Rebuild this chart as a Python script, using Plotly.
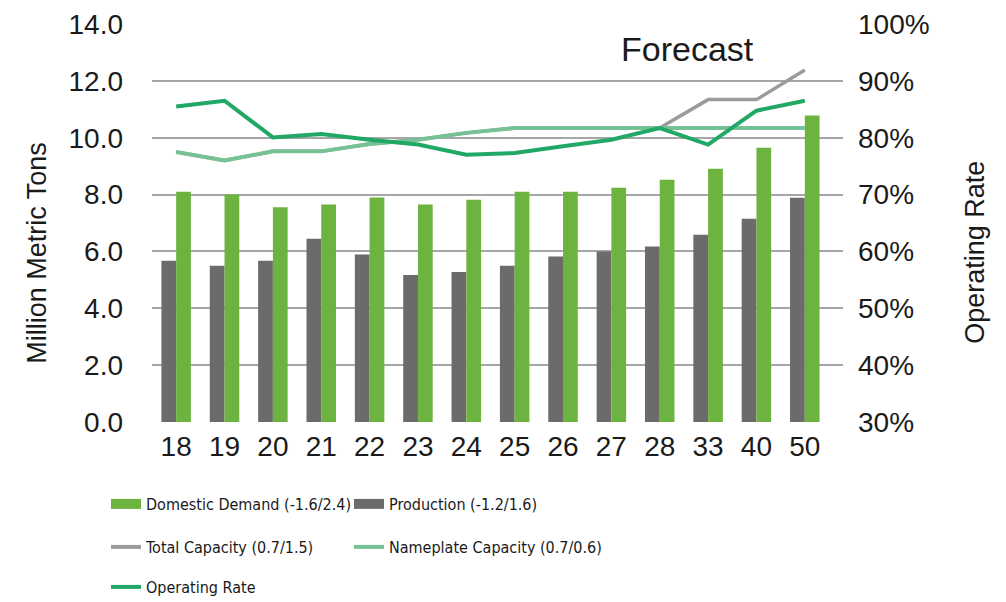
import plotly.graph_objects as go

years = ["18", "19", "20", "21", "22", "23", "24", "25", "26", "27", "28", "33", "40", "50"]
domestic_demand = [8.1, 8.0, 7.55, 7.65, 7.9, 7.65, 7.82, 8.1, 8.1, 8.24, 8.52, 8.91, 9.65, 10.78]
production = [5.67, 5.5, 5.67, 6.45, 5.89, 5.17, 5.28, 5.5, 5.82, 6.0, 6.17, 6.59, 7.15, 7.89]
total_capacity = [9.5, 9.2, 9.52, 9.52, 9.78, 9.93, 10.17, 10.34, 10.34, 10.34, 10.34, 11.34, 11.34, 12.38]
nameplate_capacity = [9.5, 9.2, 9.52, 9.52, 9.78, 9.93, 10.17, 10.34, 10.34, 10.34, 10.34, 10.34, 10.34, 10.34]
operating_rate = [85.5, 86.5, 80.05, 80.65, 79.65, 78.8, 77.0, 77.3, 78.5, 79.65, 81.7, 78.8, 84.75, 86.5]

left_ticks = [0, 2, 4, 6, 8, 10, 12, 14]
right_ticks = [30, 40, 50, 60, 70, 80, 90, 100]
right_tick_text = ["30%", "40%", "50%", "60%", "70%", "80%", "90%", "100%"]

names = {
    "dd": "Domestic Demand (-1.6/2.4)",
    "pr": "Production (-1.2/1.6)",
    "tc": "Total Capacity (0.7/1.5)",
    "nc": "Nameplate Capacity (0.7/0.6)",
    "or": "Operating Rate",
}

C_DD = "#6db33f"
C_PR = "#6b6b6a"
C_TC = "#9b9b9b"
C_NC = "#77c196"
C_OR = "#22a866"

TXT = "#1a1a1a"
FONT = "Liberation Sans, Arial, sans-serif"
NARROW = "Liberation Sans Narrow, DejaVu Sans Condensed, Liberation Sans, sans-serif"

fig = go.Figure()

fig.add_trace(go.Bar(x=years, y=production, name=names["pr"], marker_color=C_PR,
                     marker_line_width=0, showlegend=False))
fig.add_trace(go.Bar(x=years, y=domestic_demand, name=names["dd"], marker_color=C_DD,
                     marker_line_width=0, showlegend=False))
fig.add_trace(go.Scatter(x=years, y=total_capacity, name=names["tc"], mode="lines",
                         line=dict(color=C_TC, width=3.5), showlegend=False))
fig.add_trace(go.Scatter(x=years, y=nameplate_capacity, name=names["nc"], mode="lines",
                         line=dict(color=C_NC, width=4), showlegend=False))
fig.add_trace(go.Scatter(x=years, y=operating_rate, name=names["or"], mode="lines",
                         line=dict(color=C_OR, width=4), yaxis="y2", showlegend=False))

# legend entries (one legend per entry so each can be placed like the reference)
def proxy(name, color, width, legend):
    fig.add_trace(go.Scatter(x=[None], y=[None], name=name, mode="lines",
                             line=dict(color=color, width=width), legend=legend,
                             hoverinfo="skip"))

proxy(names["dd"], C_DD, 10, "legend")
proxy(names["pr"], C_PR, 10, "legend2")
proxy(names["tc"], C_TC, 4, "legend3")
proxy(names["nc"], C_NC, 4, "legend4")
proxy(names["or"], C_OR, 4, "legend5")

def leg(xpx, ypx):
    return dict(orientation="h", xref="container", yref="container", xanchor="left",
                yanchor="middle", x=xpx / 1006, y=(602 - ypx) / 602,
                font=dict(family=NARROW, size=16, color=TXT),
                bgcolor="rgba(0,0,0,0)", itemwidth=30)

fig.update_layout(
    width=1006, height=602,
    margin=dict(l=152, r=163, t=24, b=180, autoexpand=False),
    paper_bgcolor="white", plot_bgcolor="white",
    barmode="group", bargap=0.39, bargroupgap=0,
    font=dict(family=FONT, color=TXT),
    xaxis=dict(type="category", range=[-0.5, 13.79], showgrid=False, zeroline=False,
               showline=False, ticks="", tickfont=dict(size=28, color=TXT),
               ticklabelstandoff=5),
    yaxis=dict(range=[0, 14], tickvals=left_ticks, tickformat=".1f", showgrid=True,
               gridcolor="#a6a6a6", gridwidth=1.5, zeroline=False, showline=False,
               ticks="", tickfont=dict(size=28, color=TXT), ticklabelstandoff=28),
    yaxis2=dict(range=[30, 100], tickvals=right_ticks, ticktext=right_tick_text,
                overlaying="y", side="right", showgrid=False, zeroline=False,
                showline=False, ticks="", tickfont=dict(size=28, color=TXT),
                ticklabelstandoff=14),
    legend=leg(106, 504),
    legend2=leg(349, 504),
    legend3=leg(106, 547),
    legend4=leg(349, 547),
    legend5=leg(106, 587),
    annotations=[
        dict(text="Million Metric Tons", textangle=-90, xref="paper", yref="paper",
             x=0, y=0.425, xshift=-115, xanchor="center", yanchor="middle",
             showarrow=False, font=dict(size=27, color=TXT)),
        dict(text="Operating Rate", textangle=-90, xref="paper", yref="paper",
             x=1, y=0.425, xshift=132, xanchor="center", yanchor="middle",
             showarrow=False, font=dict(size=27, color=TXT)),
        dict(text="Forecast", xref="x", yref="paper", x=10.57, y=(422.3 - 49) / 398,
             xanchor="center", yanchor="middle", showarrow=False,
             font=dict(size=34, color=TXT)),
    ],
)

fig.write_html("out.html", config={"displayModeBar": False},
               post_script="document.body.style.margin='0px';")
